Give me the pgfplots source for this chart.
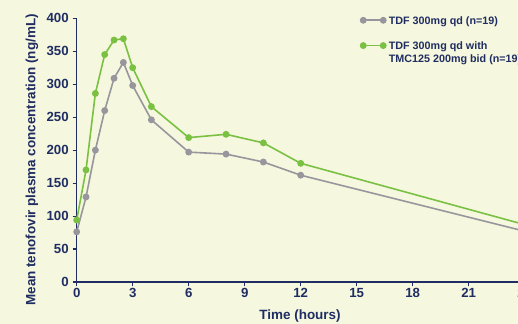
\documentclass[border=0pt]{standalone}
\usepackage{fontspec}
\setmainfont{Liberation Sans}
\usepackage{pgfplots}
\pgfplotsset{compat=1.18}
\definecolor{bg}{RGB}{245,247,222}
\definecolor{navy}{RGB}{32,45,98}
\definecolor{grn}{RGB}{122,193,67}
\definecolor{gry}{RGB}{150,150,156}
\begin{document}
\begin{tikzpicture}
\fill[bg] (-76.7bp,-42bp) rectangle (441.3bp,282bp);
\begin{axis}[
  x=18.667bp, y=0.6593bp,
  xmin=0, xmax=24, ymin=0, ymax=400,
  axis lines=left,
  axis line style={navy, line width=1.3pt, -},
  xtick={0,3,...,24}, ytick={0,50,...,400},
  tick style={navy, line width=1.1pt},
  tick align=outside, major tick length=4bp,
  every tick label/.append style={font=\fontsize{13.3}{15}\selectfont\bfseries, text=navy},
  /pgf/number format/assume math mode=true,
  xticklabel style={yshift=1bp},
  yticklabel style={xshift=-0.5bp},
  xlabel={Time (hours)},
  ylabel={Mean tenofovir plasma concentration (ng/mL)},
  label style={font=\fontsize{13.5}{15}\selectfont\bfseries, text=navy},
  xlabel style={at={(axis description cs:0.4985,0)}, anchor=center, yshift=-33.7bp},
  ylabel style={at={(axis description cs:-0.0997,0.463)}, anchor=center},
  legend style={draw=none, fill=none, at={(axis cs:15.2,406)}, anchor=north west,
    text=navy, row sep=1.1bp, inner sep=0pt,
    nodes={inner xsep=3bp, inner ysep=0pt, font=\fontsize{10.8}{14.4}\selectfont\bfseries}},
  legend cell align=left,
  legend image code/.code={
    \draw[#1, mark=none] (0bp,0bp) -- (20bp,0bp);
    \draw[#1] plot[only marks] coordinates {(0bp,0bp) (20bp,0bp)};
  },
  clip=false,
]
\addplot[gry, line width=1.6pt, mark=*, mark size=2.6bp] coordinates {
  (0,76) (0.5,129) (1,200) (1.5,260) (2,309) (2.5,333) (3,298) (4,246)
  (6,197) (8,194) (10,182) (12,162) (24,77)};
\addlegendentry{\strut TDF 300mg qd (n=19)}
\addlegendimage{empty legend}
\addlegendentry{\strut}
\addplot[grn, line width=1.6pt, mark=*, mark size=2.6bp] coordinates {
  (0,94) (0.5,170) (1,286) (1.5,345) (2,367) (2.5,369) (3,325) (4,266)
  (6,219) (8,224) (10,211) (12,180) (24,87)};
\addlegendentry{\strut TDF 300mg qd with}
\addlegendimage{empty legend}
\addlegendentry{\strut TMC125 200mg bid (n=19)}
\end{axis}
\pgfresetboundingbox
\useasboundingbox (-76.7bp,-42bp) rectangle (441.3bp,282bp);
\end{tikzpicture}
\end{document}
